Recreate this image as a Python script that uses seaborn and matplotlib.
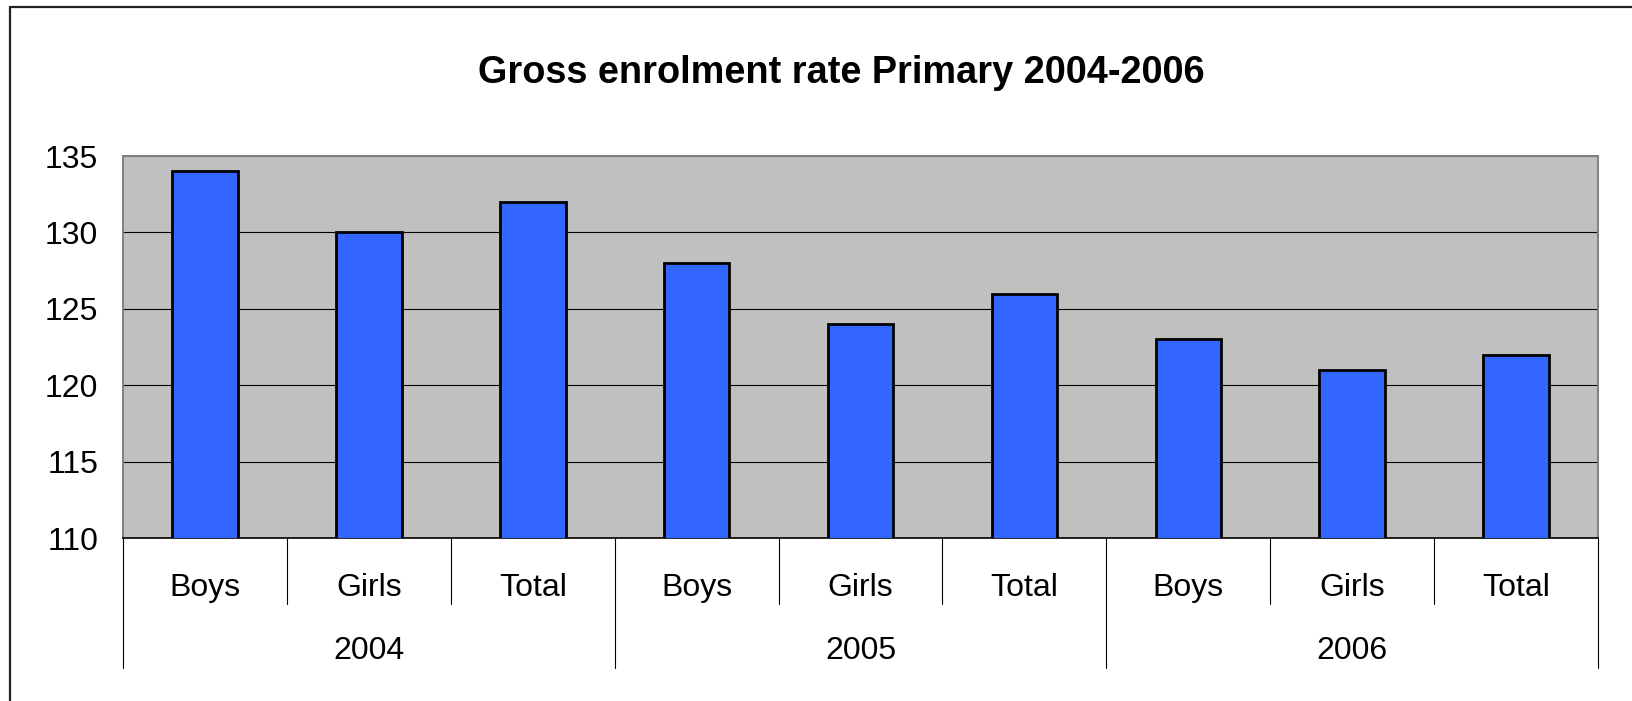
import matplotlib
matplotlib.use("Agg")
import matplotlib.pyplot as plt
from matplotlib.lines import Line2D
import seaborn as sns
import pandas as pd

years = ["2004", "2005", "2006"]
groups = ["Boys", "Girls", "Total"]
rates = [134, 130, 132, 128, 124, 126, 123, 121, 122]

df = pd.DataFrame({
    "year": [y for y in years for _ in groups],
    "group": groups * len(years),
    "rate": rates,
})
df["key"] = df["year"] + " " + df["group"]

sns.set_style("white")
plt.rcParams["font.family"] = ["Liberation Sans", "DejaVu Sans"]
plt.rcParams["text.color"] = "black"
plt.rcParams["ytick.labelcolor"] = "black"

fig = plt.figure(figsize=(16.32, 7.01), dpi=100)
ax = fig.add_axes([123 / 1632, 1 - 538 / 701, (1598 - 123) / 1632, (538 - 156) / 701])

sns.barplot(data=df, x="key", y="rate", color="#3366FF", saturation=1,
            edgecolor="black", linewidth=2.0, width=0.4, ax=ax, zorder=3)

ax.set_facecolor("#C0C0C0")
ax.set_ylim(110, 135)
ax.set_xlim(-0.5, len(df) - 0.5)
ax.set_yticks([110, 115, 120, 125, 130, 135])
ax.yaxis.grid(True, color="black", linewidth=0.8)
ax.set_axisbelow(True)
ax.tick_params(axis="y", labelsize=23, length=7, width=0.8, color="black",
               labelcolor="black", pad=11)
ax.tick_params(axis="x", length=0, labelbottom=False)
ax.set_xlabel("")
ax.set_ylabel("")

for side in ["top", "right", "left"]:
    ax.spines[side].set_color("#808080")
    ax.spines[side].set_linewidth(1.4)
ax.spines["bottom"].set_color("black")
ax.spines["bottom"].set_linewidth(1.2)

# two-level category axis
trans = ax.get_xaxis_transform()
for i, g in enumerate(df["group"]):
    ax.text(i, -0.132, g, transform=trans, ha="center", va="center", fontsize=23, color="black")
for j, y in enumerate(years):
    ax.text(j * 3 + 1, -0.297, y, transform=trans, ha="center", va="center", fontsize=23, color="black")
for k in range(len(df) + 1):
    bottom = -0.34 if k % 3 == 0 else -0.173
    ax.plot([k - 0.5, k - 0.5], [0, bottom], transform=trans, color="black",
            linewidth=0.8, clip_on=False)

fig.text(841 / 1632, 1 - 73 / 701, "Gross enrolment rate Primary 2004-2006",
         ha="center", va="center", fontsize=27.3, fontweight="bold", color="black")

# outer chart frame (left and top edges)
fig.add_artist(Line2D([10 / 1632, 10 / 1632], [0, 1 - 7 / 701], transform=fig.transFigure,
                      color="#222222", linewidth=1.6))
fig.add_artist(Line2D([10 / 1632, 1], [1 - 7 / 701, 1 - 7 / 701], transform=fig.transFigure,
                      color="#222222", linewidth=1.6))

fig.savefig("out.png", dpi=100)
